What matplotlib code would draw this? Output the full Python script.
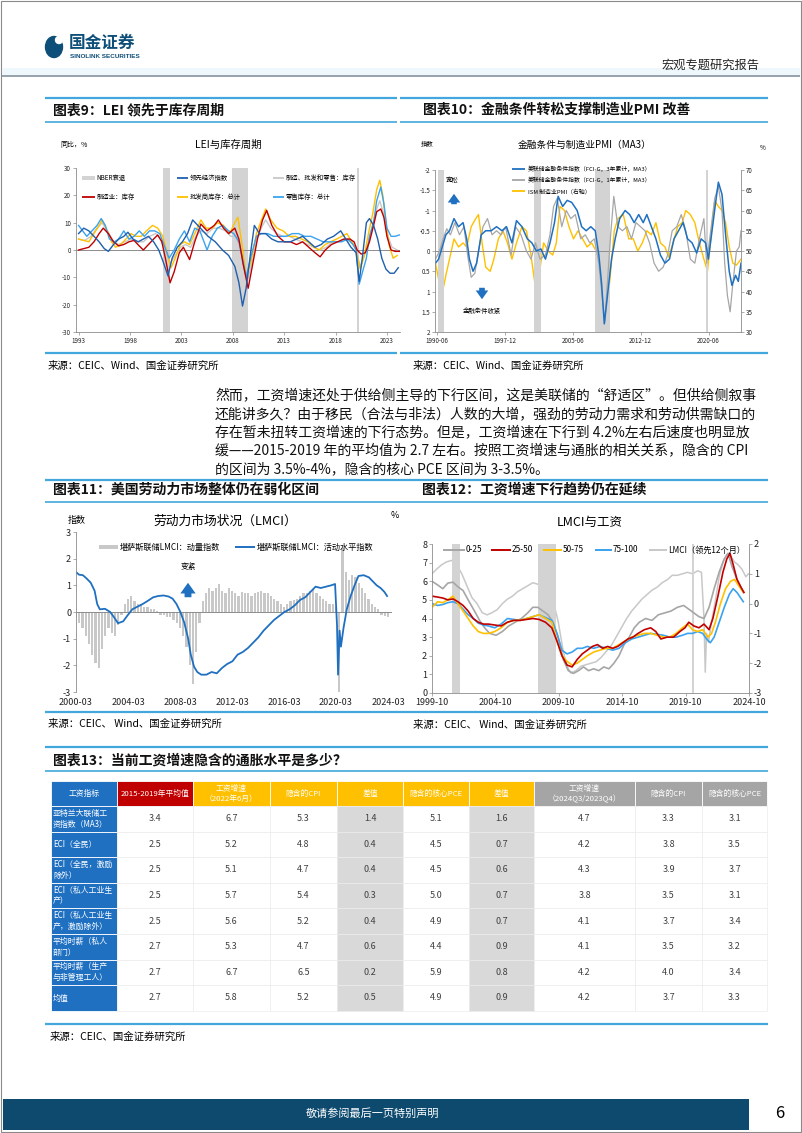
import numpy as np
import matplotlib
matplotlib.use("Agg")
import matplotlib.pyplot as plt
from matplotlib.lines import Line2D
from matplotlib.patches import Rectangle, Ellipse, FancyArrowPatch

plt.rcParams["font.family"] = ["Noto Sans CJK SC", "DejaVu Sans"]
plt.rcParams["axes.unicode_minus"] = False

# ---------------------------------------------------------------- data
# 图表9：LEI 与库存周期（同比，%）
rec9 = [(2001.2, 2001.85), (2007.9, 2009.45), (2020.1, 2020.3)]
lei = [(1993.0, 6), (1993.5, 8), (1994.0, 7), (1994.5, 5), (1995.0, 3), (1995.5, 0.5), (1995.9, -0.5),
       (1996.4, 2), (1996.9, 4), (1997.4, 5), (1997.8, 6.5), (1998.3, 4), (1998.8, 3), (1999.3, 4),
       (1999.8, 5), (2000.3, 3), (2000.8, 0), (2001.2, -4), (2001.7, -9.5), (2002.1, -3), (2002.6, 1),
       (2003.1, 3), (2003.6, 6), (2004.1, 11), (2004.6, 9), (2005.1, 7), (2005.6, 5), (2006.3, 3),
       (2007.0, 0), (2007.6, -2), (2008.2, -6), (2008.6, -12), (2008.95, -20.5), (2009.3, -14),
       (2009.7, -2), (2010.1, 9), (2010.6, 6), (2011.2, 6), (2011.8, 4), (2012.4, 3), (2013.0, 3),
       (2013.6, 3), (2014.2, 4), (2014.8, 5), (2015.4, 3), (2016.0, 1), (2016.6, 2), (2017.2, 4),
       (2017.8, 5), (2018.5, 7), (2019.0, 4), (2019.5, 1), (2020.0, -1), (2020.3, -11.5), (2020.6, -3),
       (2021.0, 10), (2021.3, 11.5), (2021.7, 9), (2022.1, 4), (2022.5, -3), (2022.9, -7),
       (2023.3, -8.5), (2023.7, -8.5), (2024.1, -6.5)]
inv_mfg = [(1993.0, 0), (1993.5, 0.5), (1994.0, 1), (1994.5, 3), (1995.0, 6), (1995.4, 8), (1995.9, 6),
           (1996.4, 3), (1996.9, 1.5), (1997.4, 2), (1997.9, 3), (1998.4, 3.5), (1998.9, 1.5), (1999.3, 0),
           (1999.8, 2), (2000.3, 4), (2000.7, 5.5), (2001.1, 3), (2001.5, -4), (2001.9, -12), (2002.3, -8),
           (2002.8, -1), (2003.2, 1), (2003.8, -3.5), (2004.3, 3), (2004.9, 9.5), (2005.5, 7), (2006.2, 9),
           (2006.6, 11), (2007.1, 8), (2007.6, 6), (2008.2, 8), (2008.6, 4), (2009.0, -5), (2009.5, -14),
           (2009.9, -6), (2010.4, 4), (2010.9, 11), (2011.3, 14.5), (2011.8, 9), (2012.4, 5), (2013.0, 3),
           (2013.6, 3), (2014.2, 2), (2014.8, 3), (2015.4, 1), (2016.0, -1), (2016.5, -2.5), (2017.0, 0),
           (2017.6, 2), (2018.2, 3), (2018.8, 4), (2019.4, 4), (2019.8, 3), (2020.1, 0), (2020.5, -1.5),
           (2020.9, -1), (2021.3, 3), (2021.7, 9), (2022.0, 14), (2022.4, 15), (2022.7, 12), (2023.0, 5),
           (2023.4, 0), (2023.8, -0.5), (2024.2, -0.5)]
inv_whl = [(1993.0, 4), (1993.5, 3.5), (1994.0, 3), (1994.5, 6), (1995.0, 9), (1995.3, 11), (1995.8, 7),
           (1996.2, 3), (1996.6, 1), (1997.1, 2), (1997.6, 4), (1998.1, 6), (1998.6, 5), (1999.1, 5),
           (1999.6, 7), (2000.2, 9), (2000.7, 8), (2001.2, 5), (2001.6, -1), (2002.0, -6.5), (2002.4, -3),
           (2002.9, 2), (2003.3, 3), (2003.8, 2), (2004.3, 6), (2004.9, 11), (2005.4, 8), (2006.0, 8),
           (2006.5, 10), (2007.1, 9), (2007.7, 6), (2008.2, 10), (2008.5, 12), (2008.9, 2), (2009.3, -10),
           (2009.8, -4), (2010.3, 6), (2010.8, 11), (2011.2, 15), (2011.7, 11), (2012.3, 8), (2012.9, 7),
           (2013.5, 5), (2014.1, 5), (2014.7, 4), (2015.3, 3), (2015.9, 1), (2016.4, 0), (2017.0, 2),
           (2017.5, 3), (2018.1, 4), (2018.6, 5), (2019.1, 6), (2019.6, 3), (2020.0, 0), (2020.4, -7),
           (2020.8, -2), (2021.2, 6), (2021.6, 13), (2022.0, 22), (2022.3, 25.5), (2022.6, 20),
           (2022.9, 10), (2023.2, 2), (2023.6, -3), (2024.0, -2)]
inv_rtl = [(1993.0, 9), (1993.4, 7), (1993.8, 5), (1994.3, 7), (1994.8, 9), (1995.2, 11.5), (1995.6, 9),
           (1996.0, 4), (1996.5, 3), (1996.9, 4), (1997.4, 7), (1997.9, 4), (1998.4, 5), (1998.9, 7),
           (1999.4, 5), (1999.9, 7), (2000.4, 7), (2000.9, 6), (2001.3, 2), (2001.8, -3), (2002.3, 0),
           (2002.8, 4), (2003.3, 7), (2003.8, 3), (2004.3, 8), (2004.8, 7), (2005.2, 3), (2005.5, 0),
           (2006.0, 5), (2006.5, 8), (2007.0, 9), (2007.6, 7), (2008.1, 6), (2008.6, 3), (2009.0, -4),
           (2009.3, -10), (2009.8, -2), (2010.3, 5), (2010.8, 6), (2011.4, 6), (2012.0, 5), (2012.6, 5),
           (2013.2, 5), (2013.8, 6), (2014.4, 6), (2015.0, 5), (2015.6, 5), (2016.2, 4), (2016.8, 3),
           (2017.4, 3), (2018.0, 3), (2018.6, 3), (2019.2, 4), (2019.7, 2), (2020.0, 0), (2020.3, -12.5),
           (2020.7, -7), (2021.0, -3), (2021.3, 5), (2021.7, 10), (2022.0, 18), (2022.4, 23), (2022.7, 17),
           (2023.0, 8), (2023.4, 5), (2023.8, 5), (2024.2, 5.5)]
inv_all = [(1993.0, 4), (1993.6, 3.5), (1994.2, 5), (1994.8, 8), (1995.3, 10), (1995.8, 7), (1996.4, 3),
           (1996.9, 2), (1997.5, 3), (1998.1, 4), (1998.7, 3), (1999.3, 3), (1999.9, 5), (2000.5, 6),
           (2001.0, 4), (2001.5, -1), (2001.9, -5), (2002.4, -2), (2002.9, 1), (2003.4, 2), (2003.9, 1),
           (2004.4, 5), (2004.9, 7), (2005.5, 6), (2006.1, 8), (2006.7, 8), (2007.3, 7), (2007.8, 5),
           (2008.3, 5), (2008.8, 0), (2009.4, -12), (2009.9, -4), (2010.4, 5), (2010.9, 9), (2011.2, 11),
           (2011.7, 8), (2012.3, 6), (2012.9, 5), (2013.5, 5), (2014.1, 4), (2014.7, 3), (2015.3, 2),
           (2015.9, 1), (2016.5, 0), (2017.1, 1), (2017.7, 3), (2018.3, 3), (2018.9, 4), (2019.5, 3),
           (2019.9, 1), (2020.4, -6), (2020.8, -2), (2021.2, 3), (2021.6, 9), (2022.0, 15), (2022.3, 18),
           (2022.7, 13), (2023.1, 5), (2023.5, 1), (2024.0, 0)]
years9 = [1993, 1998, 2003, 2008, 2013, 2018, 2023]

# 图表10：金融条件与制造业PMI（MA3）
rec10 = [(1990.55, 1991.2), (2001.17, 2001.9), (2007.92, 2009.5), (2020.1, 2020.3)]
fci3 = [(1990.25, 0.3), (1990.6, 0.2), (1991.0, -0.1), (1991.4, -0.4), (1991.8, -0.5), (1992.3, -0.8),
        (1992.8, -0.6), (1993.3, -0.7), (1993.7, -0.3), (1994.0, 0.2), (1994.4, 0.5), (1994.8, 0.3),
        (1995.3, -0.4), (1995.8, -0.5), (1996.4, -0.5), (1997.0, -0.6), (1997.6, -0.5), (1998.1, -0.6),
        (1998.7, -0.2), (1999.2, -0.75), (1999.8, -0.6), (2000.4, -0.3), (2000.9, -0.2), (2001.4, 0.0),
        (2001.9, -0.05), (2002.4, 0.2), (2002.9, -0.2), (2003.4, -0.7), (2003.8, -1.35), (2004.3, -1.1),
        (2004.8, -1.25), (2005.3, -1.2), (2005.9, -1.0), (2006.4, -0.6), (2006.9, -0.5), (2007.4, -0.6),
        (2007.9, -0.5), (2008.3, 0.1), (2008.6, 0.8), (2008.9, 1.8), (2009.3, 1.0), (2009.7, 0.2),
        (2010.1, -0.3), (2010.6, -0.8), (2011.2, -1.0), (2011.7, -0.9), (2012.2, -0.7), (2012.7, -0.9),
        (2013.2, -0.7), (2013.6, -0.9), (2014.1, -0.6), (2014.6, -0.3), (2015.1, 0.1), (2015.6, 0.3),
        (2016.1, 0.2), (2016.6, -0.3), (2017.1, -0.5), (2017.6, -0.7), (2018.1, -0.3), (2018.6, -0.2),
        (2019.1, 0.05), (2019.6, -0.3), (2020.1, -0.2), (2020.4, 0.2), (2020.8, -0.5), (2021.2, -1.2),
        (2021.5, -1.7), (2021.9, -1.4), (2022.3, -0.4), (2022.7, 0.5), (2023.0, 0.85), (2023.4, 0.6),
        (2023.7, 0.75), (2024.0, 0.3)]
fci1 = [(1990.25, 0.2), (1990.7, 0.0), (1991.1, -0.3), (1991.5, -0.55), (1991.9, -0.4), (1992.4, -0.7),
        (1992.9, -0.4), (1993.4, -0.6), (1993.8, 0.1), (1994.2, 0.65), (1994.6, 0.55), (1995.0, 0.0),
        (1995.5, -0.6), (1996.0, -0.8), (1996.5, -0.4), (1997.0, -0.5), (1997.5, -0.4), (1998.0, -0.6),
        (1998.6, 0.1), (1999.1, -0.6), (1999.7, -0.4), (2000.3, 0.0), (2000.8, 0.2), (2001.3, -0.2),
        (2001.8, 0.2), (2002.4, 0.1), (2002.9, -0.4), (2003.3, -1.1), (2003.7, -1.3), (2004.2, -0.6),
        (2004.7, -1.0), (2005.2, -0.8), (2005.7, -0.9), (2006.3, -0.3), (2006.8, -0.4), (2007.3, -0.2),
        (2007.8, -0.3), (2008.3, 0.3), (2008.7, 1.2), (2008.95, 1.75), (2009.3, 0.6), (2009.6, -0.4),
        (2009.95, -1.35), (2010.4, -0.6), (2010.9, -0.5), (2011.4, -0.6), (2011.9, -0.3), (2012.4, -0.7),
        (2012.9, -0.6), (2013.4, -0.5), (2013.9, -0.2), (2014.4, 0.3), (2014.9, 0.5), (2015.4, 0.4),
        (2015.9, 0.1), (2016.4, -0.5), (2016.9, -0.6), (2017.4, -0.9), (2017.9, -0.5), (2018.4, 0.2),
        (2018.9, 0.3), (2019.4, -0.3), (2019.9, -0.8), (2020.2, 0.3), (2020.6, -0.4), (2021.1, -1.3),
        (2021.5, -1.6), (2021.9, -1.0), (2022.2, 0.3), (2022.5, 1.1), (2022.8, 1.5), (2023.1, 0.8),
        (2023.5, 0.0), (2023.8, -0.1), (2024.0, -0.5)]
pmi = [(1990.25, 47), (1990.6, 43), (1991.0, 39.6), (1991.4, 44), (1991.8, 48), (1992.3, 53), (1992.8, 51),
       (1993.3, 52), (1993.7, 51), (1994.2, 56), (1994.7, 58), (1995.0, 59), (1995.4, 52), (1995.8, 46),
       (1996.3, 45), (1996.7, 48), (1997.2, 53), (1997.7, 55), (1998.2, 52), (1998.7, 48), (1999.2, 52),
       (1999.8, 56), (2000.3, 55), (2000.8, 49), (2001.2, 42.5), (2001.7, 44), (2002.2, 52), (2002.7, 50),
       (2003.2, 49), (2003.6, 52), (2004.0, 61), (2004.5, 60), (2005.0, 56), (2005.5, 53), (2006.0, 55),
       (2006.5, 53), (2007.0, 51), (2007.5, 52), (2008.0, 50), (2008.5, 46), (2008.9, 36), (2009.2, 35.5),
       (2009.6, 45), (2010.0, 55), (2010.4, 58), (2011.0, 59), (2011.6, 53), (2012.1, 53), (2012.6, 50),
       (2013.1, 52), (2013.6, 55), (2014.1, 54), (2014.6, 57), (2015.1, 52), (2015.6, 51), (2016.0, 48.5),
       (2016.5, 52), (2017.0, 56), (2017.5, 57), (2017.9, 60), (2018.4, 59), (2018.9, 57), (2019.4, 52),
       (2019.9, 48), (2020.3, 45), (2020.7, 54), (2021.1, 62.4), (2021.5, 61), (2021.9, 60), (2022.3, 57),
       (2022.7, 51), (2023.1, 47), (2023.5, 46.5), (2024.0, 48)]
ticks10 = [1990.42, 1997.92, 2005.42, 2012.92, 2020.42]
labels10 = ["1990-06", "1997-12", "2005-06", "2012-12", "2020-06"]

# 图表11：劳动力市场状况（LMCI）
lmci_mom_q = [-0.2, -0.4, -0.6, -0.9, -1.2, -1.6, -1.9, -2.1, -1.4, -0.9, -0.6, -0.8,
              -0.9, -0.5, -0.1, 0.3, 0.5, 0.6, 0.4, 0.3, 0.3, 0.2, 0.2, 0.1,
              0.1, 0.05, -0.1, -0.1, -0.2, -0.2, -0.3, -0.4, -0.6, -0.9, -1.3, -2.0,
              -2.7, -1.5, -0.4, 0.4, 0.7, 0.9, 0.8, 0.9, 1.05, 0.8, 0.7, 0.9,
              0.8, 0.7, 0.6, 0.75, 0.7, 0.7, 0.6, 0.7, 0.75, 0.8, 0.7, 0.7,
              0.6, 0.5, 0.4, 0.3, 0.2, 0.3, 0.4, 0.45, 0.5, 0.6, 0.7, 0.7,
              0.8, 0.85, 0.7, 0.6, 0.5, 0.4, 0.3, 0.3, 0.2, -3.0, 2.4, 1.5,
              1.2, 1.4, 1.3, 1.1, 0.9, 0.7, 0.5, 0.3, 0.2, 0.1, -0.1, -0.15, -0.2]
lmci_lvl = [(2000.17, 1.5), (2000.4, 1.4), (2000.7, 1.38), (2001.0, 1.25), (2001.3, 1.1), (2001.6, 0.8),
            (2001.8, 0.3), (2002.0, 0.1), (2002.4, 0.12), (2002.8, 0.0), (2003.1, -0.2), (2003.4, -0.42),
            (2003.8, -0.35), (2004.1, -0.15), (2004.5, 0.1), (2004.9, 0.2), (2005.3, 0.3), (2005.7, 0.42),
            (2006.1, 0.55), (2006.5, 0.6), (2006.9, 0.62), (2007.3, 0.58), (2007.6, 0.5), (2007.9, 0.3),
            (2008.2, 0.0), (2008.5, -0.4), (2008.8, -1.0), (2009.0, -1.6), (2009.25, -2.05), (2009.5, -2.25),
            (2009.8, -2.35), (2010.2, -2.35), (2010.6, -2.25), (2011.0, -2.3), (2011.4, -2.1),
            (2011.8, -1.95), (2012.2, -1.85), (2012.6, -1.6), (2013.0, -1.5), (2013.4, -1.35),
            (2013.8, -1.15), (2014.2, -0.95), (2014.6, -0.7), (2015.0, -0.5), (2015.4, -0.3),
            (2015.8, -0.15), (2016.2, 0.0), (2016.6, 0.1), (2017.0, 0.25), (2017.4, 0.45), (2017.8, 0.55),
            (2018.2, 0.75), (2018.6, 0.95), (2019.0, 0.9), (2019.4, 0.95), (2019.8, 1.0), (2020.1, 1.05),
            (2020.25, -0.5), (2020.33, -2.35), (2020.45, -0.7), (2020.55, -1.3), (2020.75, -0.6),
            (2021.0, 0.1), (2021.3, 0.6), (2021.6, 1.0), (2021.9, 1.35), (2022.3, 1.38), (2022.7, 1.3),
            (2023.0, 1.15), (2023.3, 1.0), (2023.6, 0.9), (2023.9, 0.75), (2024.1, 0.6)]
ticks11 = [2000.17, 2004.17, 2008.17, 2012.17, 2016.17, 2020.17, 2024.17]
labels11 = ["2000-03", "2004-03", "2008-03", "2012-03", "2016-03", "2020-03", "2024-03"]

# 图表12：LMCI 与工资
rec12 = [(2001.3, 2001.95), (2008.1, 2009.55), (2020.25, 2020.45)]
w0_25 = [(1999.75, 6.0), (2000.2, 5.8), (2000.6, 5.6), (2001.0, 5.9), (2001.4, 5.95), (2001.8, 5.7),
         (2002.2, 5.5), (2002.6, 5.0), (2003.1, 4.4), (2003.5, 3.9), (2003.9, 3.5), (2004.3, 3.2),
         (2004.8, 3.1), (2005.3, 3.3), (2005.8, 3.6), (2006.3, 3.8), (2006.8, 4.0), (2007.3, 4.3),
         (2007.7, 4.6), (2008.1, 4.6), (2008.5, 4.4), (2008.9, 4.2), (2009.3, 3.8), (2009.7, 3.0),
         (2010.1, 1.8), (2010.5, 1.2), (2010.9, 1.05), (2011.3, 1.2), (2011.7, 1.4), (2012.1, 1.2),
         (2012.5, 1.3), (2012.9, 1.2), (2013.3, 1.4), (2013.7, 1.3), (2014.1, 1.6), (2014.5, 2.0),
         (2014.9, 2.6), (2015.3, 3.0), (2015.7, 3.5), (2016.1, 3.8), (2016.6, 4.0), (2017.1, 3.9),
         (2017.6, 4.2), (2018.1, 4.3), (2018.6, 4.4), (2019.1, 4.6), (2019.6, 4.7), (2020.0, 4.5),
         (2020.4, 4.3), (2020.8, 4.1), (2021.2, 4.0), (2021.6, 4.6), (2022.0, 5.6), (2022.4, 6.5),
         (2022.8, 7.2), (2023.1, 7.5), (2023.4, 6.8), (2023.8, 6.1), (2024.1, 5.7), (2024.3, 5.4)]
w25_50 = [(1999.75, 5.2), (2000.2, 5.15), (2000.6, 5.1), (2001.0, 5.0), (2001.4, 5.05), (2001.8, 4.9),
          (2002.2, 4.7), (2002.6, 4.4), (2003.0, 4.0), (2003.4, 3.8), (2003.8, 3.7), (2004.2, 3.7),
          (2004.7, 3.65), (2005.2, 3.6), (2005.7, 3.8), (2006.2, 3.9), (2006.7, 3.9), (2007.2, 3.95),
          (2007.7, 4.0), (2008.2, 3.95), (2008.7, 3.8), (2009.2, 3.5), (2009.6, 2.8), (2010.0, 2.0),
          (2010.4, 1.5), (2010.8, 1.4), (2011.2, 1.8), (2011.6, 2.1), (2012.0, 2.3), (2012.4, 2.5),
          (2012.8, 2.6), (2013.2, 2.4), (2013.6, 2.5), (2014.0, 2.4), (2014.4, 2.5), (2014.8, 2.7),
          (2015.2, 2.9), (2015.6, 3.0), (2016.0, 3.2), (2016.5, 3.4), (2017.0, 3.5), (2017.4, 3.3),
          (2017.8, 2.9), (2018.3, 3.0), (2018.8, 3.0), (2019.3, 3.3), (2019.7, 3.5), (2020.0, 3.8),
          (2020.4, 3.6), (2020.8, 3.5), (2021.2, 3.7), (2021.6, 3.4), (2021.9, 4.0), (2022.3, 5.2),
          (2022.7, 6.5), (2023.0, 7.2), (2023.25, 7.5), (2023.5, 6.9), (2023.8, 6.1), (2024.1, 5.7),
          (2024.35, 5.4)]
w50_75 = [(1999.75, 4.6), (2000.2, 4.9), (2000.6, 4.85), (2001.0, 5.0), (2001.4, 5.2), (2001.8, 4.8),
          (2002.2, 4.4), (2002.6, 4.0), (2003.0, 3.6), (2003.4, 3.3), (2003.8, 3.2), (2004.2, 3.2),
          (2004.7, 3.3), (2005.2, 3.5), (2005.7, 3.8), (2006.2, 3.9), (2006.7, 3.9), (2007.2, 4.0),
          (2007.7, 4.1), (2008.2, 4.2), (2008.7, 4.0), (2009.2, 3.8), (2009.6, 2.8), (2010.0, 2.0),
          (2010.4, 1.7), (2010.8, 1.5), (2011.2, 1.6), (2011.6, 1.8), (2012.0, 2.0), (2012.5, 2.2),
          (2013.0, 2.3), (2013.5, 2.4), (2014.0, 2.4), (2014.5, 2.6), (2015.0, 2.8), (2015.5, 3.0),
          (2016.0, 3.1), (2016.5, 3.2), (2017.0, 3.2), (2017.5, 3.1), (2018.0, 3.0), (2018.5, 3.0),
          (2019.0, 3.2), (2019.5, 3.5), (2019.9, 3.7), (2020.3, 3.4), (2020.7, 3.3), (2021.1, 3.4),
          (2021.5, 3.0), (2021.8, 3.2), (2022.1, 3.8), (2022.5, 4.8), (2022.9, 5.6), (2023.3, 6.0),
          (2023.6, 6.1), (2023.9, 5.8), (2024.2, 5.5), (2024.35, 5.4)]
w75_100 = [(1999.75, 4.8), (2000.2, 4.7), (2000.6, 4.75), (2001.0, 4.85), (2001.4, 4.9), (2001.8, 4.8),
           (2002.2, 4.5), (2002.6, 4.2), (2003.0, 4.0), (2003.4, 3.75), (2003.8, 3.65), (2004.2, 3.6),
           (2004.7, 3.5), (2005.2, 3.7), (2005.7, 4.0), (2006.2, 3.95), (2006.7, 3.9), (2007.2, 4.0),
           (2007.7, 4.1), (2008.2, 4.2), (2008.7, 4.05), (2009.2, 3.9), (2009.6, 3.2), (2010.0, 2.3),
           (2010.4, 2.1), (2010.8, 2.2), (2011.2, 2.4), (2011.6, 2.4), (2012.0, 2.5), (2012.5, 2.4),
           (2013.0, 2.5), (2013.5, 2.4), (2014.0, 2.3), (2014.5, 2.4), (2015.0, 2.7), (2015.5, 2.9),
           (2016.0, 3.0), (2016.5, 3.1), (2017.0, 3.2), (2017.5, 3.15), (2018.0, 3.1), (2018.5, 3.0),
           (2019.0, 3.0), (2019.5, 3.1), (2019.9, 3.2), (2020.3, 3.2), (2020.7, 3.3), (2021.1, 3.2),
           (2021.4, 2.9), (2021.7, 2.7), (2022.0, 3.0), (2022.4, 3.8), (2022.8, 4.6), (2023.2, 5.3),
           (2023.5, 5.6), (2023.8, 5.4), (2024.1, 5.1), (2024.3, 4.9)]
lmci_lead = [(1999.75, 1.0), (2000.1, 1.15), (2000.5, 1.3), (2000.9, 1.4), (2001.3, 1.45), (2001.7, 1.3),
             (2002.1, 1.0), (2002.5, 0.6), (2002.9, 0.2), (2003.3, 0.0), (2003.7, -0.3), (2004.1, -0.38),
             (2004.5, -0.3), (2004.9, -0.2), (2005.3, 0.0), (2005.7, 0.15), (2006.1, 0.25), (2006.5, 0.4),
             (2006.9, 0.5), (2007.3, 0.6), (2007.7, 0.7), (2008.1, 0.65), (2008.5, 0.55), (2008.9, 0.4),
             (2009.3, 0.1), (2009.7, -0.6), (2010.1, -1.6), (2010.4, -2.1), (2010.7, -2.33), (2011.1, -2.25),
             (2011.5, -2.1), (2011.9, -2.05), (2012.3, -2.0), (2012.7, -1.95), (2013.1, -1.8),
             (2013.5, -1.6), (2013.9, -1.4), (2014.3, -1.1), (2014.7, -0.8), (2015.1, -0.5),
             (2015.5, -0.25), (2015.9, -0.05), (2016.3, 0.15), (2016.7, 0.3), (2017.1, 0.45),
             (2017.5, 0.55), (2017.9, 0.7), (2018.3, 0.8), (2018.7, 0.95), (2019.1, 0.95), (2019.5, 1.0),
             (2019.9, 1.05), (2020.3, 1.0), (2020.7, 1.1), (2021.0, 1.05), (2021.2, -0.5), (2021.3, -2.3),
             (2021.4, -1.0), (2021.55, -1.3), (2021.8, -0.6), (2022.1, 0.1), (2022.4, 0.9), (2022.7, 1.4),
             (2023.0, 1.65), (2023.3, 1.6), (2023.6, 1.4), (2023.9, 1.3), (2024.2, 1.15), (2024.5, 0.9),
             (2024.7, 1.0)]
ticks12 = [1999.75, 2004.75, 2009.75, 2014.75, 2019.75, 2024.75]
labels12 = ["1999-10", "2004-10", "2009-10", "2014-10", "2019-10", "2024-10"]

# 图表13：当前工资增速隐含的通胀水平
table_header = ["工资指标", "2015-2019年平均值", "工资增速\n（2022年6月）", "隐含的CPI", "差值",
                "隐含的核心PCE", "差值", "工资增速\n（2024Q3/2023Q4）", "隐含的CPI", "隐含的核心PCE"]
table_rows = ["亚特兰大联储工\n资指数（MA3）", "ECI（全民）", "ECI（全民，激励\n除外）", "ECI（私人工业生\n产）",
              "ECI（私人工业生\n产，激励除外）", "平均时薪（私人\n部门）", "平均时薪（生产\n与非管理工人）", "均值"]
table_vals = [[3.4, 6.7, 5.3, 1.4, 5.1, 1.6, 4.7, 3.3, 3.1],
              [2.5, 5.2, 4.8, 0.4, 4.5, 0.7, 4.2, 3.8, 3.5],
              [2.5, 5.1, 4.7, 0.4, 4.5, 0.6, 4.3, 3.9, 3.7],
              [2.5, 5.7, 5.4, 0.3, 5.0, 0.7, 3.8, 3.5, 3.1],
              [2.5, 5.6, 5.2, 0.4, 4.9, 0.7, 4.1, 3.7, 3.4],
              [2.7, 5.3, 4.7, 0.6, 4.4, 0.9, 4.1, 3.5, 3.2],
              [2.7, 6.7, 6.5, 0.2, 5.9, 0.8, 4.2, 4.0, 3.4],
              [2.7, 5.8, 5.2, 0.5, 4.9, 0.9, 4.2, 3.7, 3.3]]

paragraph = ["然而，工资增速还处于供给侧主导的下行区间，这是美联储的“舒适区”。但供给侧叙事",
             "还能讲多久？由于移民（合法与非法）人数的大增，强劲的劳动力需求和劳动供需缺口的",
             "存在暂未扭转工资增速的下行态势。但是，工资增速在下行到 4.2%左右后速度也明显放",
             "缓——2015-2019 年的平均值为 2.7 左右。按照工资增速与通胀的相关关系，隐含的 CPI",
             "的区间为 3.5%-4%，隐含的核心 PCE 区间为 3-3.5%。"]

# ---------------------------------------------------------------- colours
LINE_BLUE = "#41A7DC"
NAVY = "#0E4F79"
GRID = "#8C8C8C"
REC = "#D3D3D3"
DBLUE = "#1F5FAD"
MBLUE = "#1F70C1"
LBLUE = "#3AA2EE"
RED = "#C00000"
GOLD = "#FFC000"
GRAY = "#A6A6A6"
LGRAY = "#C8C8C8"

W, H = 802, 1133
fig = plt.figure(figsize=(W / 100, H / 100), dpi=100)


def fx(x):
    return x / W


def fy(y):
    return 1 - y / H


def add_ax(x0, y0, x1, y1):
    return fig.add_axes([fx(x0), fy(y1), (x1 - x0) / W, (y1 - y0) / H])


def hline(x0, x1, y, color, lw):
    fig.add_artist(Line2D([fx(x0), fx(x1)], [fy(y), fy(y)], color=color, lw=lw,
                          solid_capstyle="butt"))


def rect(x0, y0, x1, y1, fc, ec="none", lw=0.0):
    fig.add_artist(Rectangle((fx(x0), fy(y1)), (x1 - x0) / W, (y1 - y0) / H, facecolor=fc,
                             edgecolor=ec, lw=lw, transform=fig.transFigure))


def txt(x, y, s, size, ha="left", va="center", color="black", **kw):
    fig.text(fx(x), fy(y), s, fontsize=size, ha=ha, va=va, color=color, **kw)


def arrow(x, y0, y1, color=MBLUE, scale=10):
    fig.add_artist(FancyArrowPatch(
        (x, H - y0), (x, H - y1), transform=None,
        arrowstyle="simple,head_length=0.7,head_width=1.0,tail_width=0.45",
        mutation_scale=scale, color=color, lw=0))


def style_ax(ax, size, bottom=True):
    for s in ["top", "right"]:
        ax.spines[s].set_visible(False)
    ax.spines["left"].set_color(GRID)
    ax.spines["left"].set_linewidth(0.6)
    ax.spines["bottom"].set_visible(bottom)
    ax.spines["bottom"].set_color(GRID)
    ax.spines["bottom"].set_linewidth(0.6)
    ax.tick_params(labelsize=size, length=2, width=0.5, color=GRID, pad=1.5, labelcolor="#222222")
    ax.patch.set_alpha(0)


def style_right(ax, size):
    for s in ["top", "left", "bottom"]:
        ax.spines[s].set_visible(False)
    ax.spines["right"].set_color(GRID)
    ax.spines["right"].set_linewidth(0.6)
    ax.tick_params(labelsize=size, length=2, width=0.5, color=GRID, pad=1.5, labelcolor="#222222")


def leg_line(x0, x1, y, color, lw=1.3):
    hline(x0, x1, y, color, lw)


def section(x0, x1, y_top, y_text, y_bot, title, tx):
    hline(x0, x1, y_top, LINE_BLUE, 1.6)
    txt(tx, y_text, title, 10, weight="bold", color="#111111")
    hline(x0, x1, y_bot, LINE_BLUE, 1.2)


def xy(pairs):
    t, v = zip(*pairs)
    return np.array(t), np.array(v)


# ---------------------------------------------------------------- page frame
rect(1, 1, 801, 1132, "none", ec="#8A8A8A", lw=0.8)
rect(2, 68, 800, 75, "#EEF7FB")
hline(2, 800, 76, "#8C9AA5", 1.3)
fig.add_artist(Ellipse((fx(54), fy(47)), 17 / W, 21 / H, color=NAVY, transform=fig.transFigure))
fig.add_artist(Ellipse((fx(59), fy(40)), 7 / W, 7 / H, color="white", transform=fig.transFigure))
txt(69, 43, "国金证券", 12, color=NAVY, weight="bold")
txt(70, 56, "SINOLINK SECURITIES", 4.6, color=NAVY, weight="bold", family="Liberation Sans")
txt(760, 65, "宏观专题研究报告", 8.8, ha="right", color="#222222")

# ---------------------------------------------------------------- chart 9
section(45, 397, 98, 110, 122, "图表9：LEI 领先于库存周期", 53)
ax9 = add_ax(76, 168, 400, 332)
for a, b in rec9:
    ax9.axvspan(a, b, color=REC, lw=0)
ax9.axhline(0, color=GRID, lw=0.7)
for pairs, c in [(inv_all, LGRAY), (inv_whl, GOLD), (inv_rtl, LBLUE), (inv_mfg, RED), (lei, DBLUE)]:
    t, v = xy(pairs)
    ax9.plot(t, v, color=c, lw=1.0)
ax9.set_xlim(1992.75, 2024.27)
ax9.set_ylim(-30, 30)
ax9.set_yticks(range(-30, 31, 10))
ax9.set_xticks(years9)
ax9.set_xticklabels([str(y) for y in years9])
style_ax(ax9, 4.5)
txt(228, 145, "LEI与库存周期", 7.5, ha="center")
txt(60, 145, "同比，%", 5)
rect(82, 176, 95, 180, REC)
txt(96, 178, "NBER衰退", 4.6)
leg_line(177, 188, 178, DBLUE)
txt(190, 178, "领先经济指数", 4.6)
leg_line(273, 284, 178, LGRAY)
txt(286, 178, "制造、批发和零售：库存", 4.6)
leg_line(82, 95, 197, RED)
txt(97, 197, "制造业：库存", 4.6)
leg_line(177, 188, 197, GOLD)
txt(190, 197, "批发商库存：总计", 4.6)
leg_line(273, 284, 197, LBLUE)
txt(286, 197, "零售库存：总计", 4.6)
hline(45, 397, 353, LINE_BLUE, 1.6)
txt(48, 366, "来源：CEIC、Wind、国金证券研究所", 7.5)

# ---------------------------------------------------------------- chart 10
section(400, 768, 98, 110, 122, "图表10：金融条件转松支撑制造业PMI 改善", 423)
ax10 = add_ax(435, 170, 741, 332)
for a, b in rec10:
    ax10.axvspan(a, b, color=REC, lw=0)
ax10.axhline(0, color=GRID, lw=0.7)
ax10r = ax10.twinx()
t, v = xy(pmi)
ax10r.plot(t, v, color=GOLD, lw=1.0)
t, v = xy(fci1)
ax10.plot(t, v, color=GRAY, lw=0.9)
t, v = xy(fci3)
ax10.plot(t, v, color=MBLUE, lw=1.1)
ax10.set_zorder(ax10r.get_zorder() + 1)
ax10.set_xlim(1990.2, 2024.0)
ax10.set_ylim(2, -2)
yt10 = [-2, -1.5, -1, -0.5, 0, 0.5, 1, 1.5, 2]
ax10.set_yticks(yt10)
ax10.set_yticklabels([f"{v:g}" for v in yt10])
ax10.set_xticks(ticks10)
ax10.set_xticklabels(labels10)
style_ax(ax10, 4.5)
ax10r.set_ylim(30, 70)
ax10r.set_yticks(range(30, 71, 5))
style_right(ax10r, 4.5)
txt(585, 145, "金融条件与制造业PMI（MA3）", 7, ha="center")
txt(421, 144, "指数", 4.6)
txt(760, 148, "%", 4.6)
leg_line(512, 525, 169, MBLUE)
txt(528, 169, "美联储金融条件指数（FCI-G，3年累计，MA3）", 4.2)
leg_line(512, 525, 180, GRAY)
txt(528, 180, "美联储金融条件指数（FCI-G，1年累计，MA3）", 4.2)
leg_line(512, 525, 191, GOLD)
txt(528, 191, "ISM 制造业PMI（右轴）", 4.2)
txt(452, 180, "宽松", 4.6, ha="center")
arrow(454, 207, 191, scale=9)
arrow(482, 285, 302, scale=9)
txt(482, 311, "金融条件收紧", 4.6, ha="center")
hline(400, 768, 353, LINE_BLUE, 1.6)
txt(413, 366, "来源：CEIC、Wind、国金证券研究所", 7.5)

# ---------------------------------------------------------------- paragraph
for i, line in enumerate(paragraph):
    txt(215, 396 + i * 18.2, line, 10, color="#111111")

# ---------------------------------------------------------------- chart 11
section(45, 400, 480, 490, 502, "图表11：美国劳动力市场整体仍在弱化区间", 53)
ax11 = add_ax(76, 532, 392, 692)
mom_t = 2000.17 + 0.25 * np.arange(len(lmci_mom_q))
ax11.bar(mom_t, lmci_mom_q, width=0.17, color=LGRAY, lw=0)
ax11.axhline(0, color=GRID, lw=0.7)
t, v = xy(lmci_lvl)
ax11.plot(t, v, color=MBLUE, lw=1.3)
ax11.set_xlim(2000.17, 2024.48)
ax11.set_ylim(-3, 3)
ax11.set_yticks(range(-3, 4))
ax11.set_xticks(ticks11)
ax11.set_xticklabels(labels11)
style_ax(ax11, 6.5, bottom=False)
ax11.tick_params(axis="x", length=0, pad=4)
txt(225, 521, "劳动力市场状况（LMCI）", 9.2, ha="center")
txt(68, 520, "指数", 6.5)
txt(395, 516, "%", 6.5, ha="center")
rect(99, 545, 118, 549, LGRAY)
txt(120, 547, "堪萨斯联储LMCI：动量指数", 5.9)
leg_line(235, 255, 547, MBLUE, 1.4)
txt(257, 547, "堪萨斯联储LMCI：活动水平指数", 5.9)
txt(188, 567, "变紧", 5.6, ha="center")
arrow(188, 600, 580, scale=11)
hline(45, 400, 712, LINE_BLUE, 1.6)
txt(48, 724, "来源：CEIC、 Wind、国金证券研究所", 7.5)

# ---------------------------------------------------------------- chart 12
section(400, 768, 480, 490, 502, "图表12：工资增速下行趋势仍在延续", 422)
ax12 = add_ax(432, 544, 749, 693)
for a, b in rec12:
    ax12.axvspan(a, b, color=REC, lw=0)
ax12r = ax12.twinx()
t, v = xy(lmci_lead)
ax12r.plot(t, v, color=LGRAY, lw=1.1)
for pairs, c in [(w0_25, GRAY), (w75_100, LBLUE), (w50_75, GOLD), (w25_50, RED)]:
    t, v = xy(pairs)
    ax12.plot(t, v, color=c, lw=1.2)
ax12.set_zorder(ax12r.get_zorder() + 1)
ax12.set_xlim(1999.75, 2024.75)
ax12.set_ylim(0, 8)
ax12.set_yticks(range(0, 9))
ax12.set_xticks(ticks12)
ax12.set_xticklabels(labels12)
style_ax(ax12, 6.5)
ax12r.set_ylim(-3, 2)
ax12r.set_yticks(range(-3, 3))
style_right(ax12r, 6.5)
txt(590, 522, "LMCI与工资", 9, ha="center")
for x0, x1, c, lab in [(443, 465, GRAY, "0-25"), (491, 511, RED, "25-50"), (543, 562, GOLD, "50-75"),
                       (595, 612, LBLUE, "75-100"), (649, 667, LGRAY, "LMCI（领先12个月）")]:
    leg_line(x0, x1, 550, c, 1.4)
    txt(x1 + 1, 550, lab, 5.9)
hline(400, 768, 712, LINE_BLUE, 1.6)
txt(413, 725, "来源：CEIC、 Wind、国金证券研究所", 7.5)

# ---------------------------------------------------------------- table 13
section(45, 768, 747, 761, 771, "图表13：当前工资增速隐含的通胀水平是多少？", 53)
cols = [51, 117, 193, 270, 337, 403, 469, 534, 635, 702, 767]
hdr_colors = [MBLUE, RED, GOLD, GOLD, GOLD, GOLD, GOLD, "#A5A5A5", "#A5A5A5", "#A5A5A5"]
hdr_top, hdr_bot, row_h = 781, 806, 25.6
for j, lab in enumerate(table_header):
    rect(cols[j], hdr_top, cols[j + 1], hdr_bot, hdr_colors[j], ec="white", lw=0.6)
    txt((cols[j] + cols[j + 1]) / 2, (hdr_top + hdr_bot) / 2, lab, 5.6, ha="center",
        color="white", linespacing=1.3)
for i, (name, vals) in enumerate(zip(table_rows, table_vals)):
    y0 = hdr_bot + i * row_h
    y1 = y0 + row_h
    rect(cols[0], y0, cols[1], y1, MBLUE, ec="white", lw=0.6)
    txt(cols[0] + 2, (y0 + y1) / 2, name, 5.7, color="white", linespacing=1.3)
    for j, val in enumerate(vals):
        c = j + 1
        fc = "#D9D9D9" if c in (4, 6) else "white"
        rect(cols[c], y0, cols[c + 1], y1, fc, ec="#ECECEC", lw=0.5)
        txt((cols[c] + cols[c + 1]) / 2, (y0 + y1) / 2, f"{val:.1f}", 6.5, ha="center",
            color="#404040")
hline(45, 768, 1024, LINE_BLUE, 1.6)
txt(50, 1037, "来源：CEIC、国金证券研究所", 7.5)

# ---------------------------------------------------------------- footer
rect(3, 1099, 749, 1130, "#0D4A6E")
txt(373, 1114, "敬请参阅最后一页特别声明", 8, ha="center", color="white")
txt(780, 1114, "6", 12, ha="center")

fig.savefig("out.png", dpi=100)
